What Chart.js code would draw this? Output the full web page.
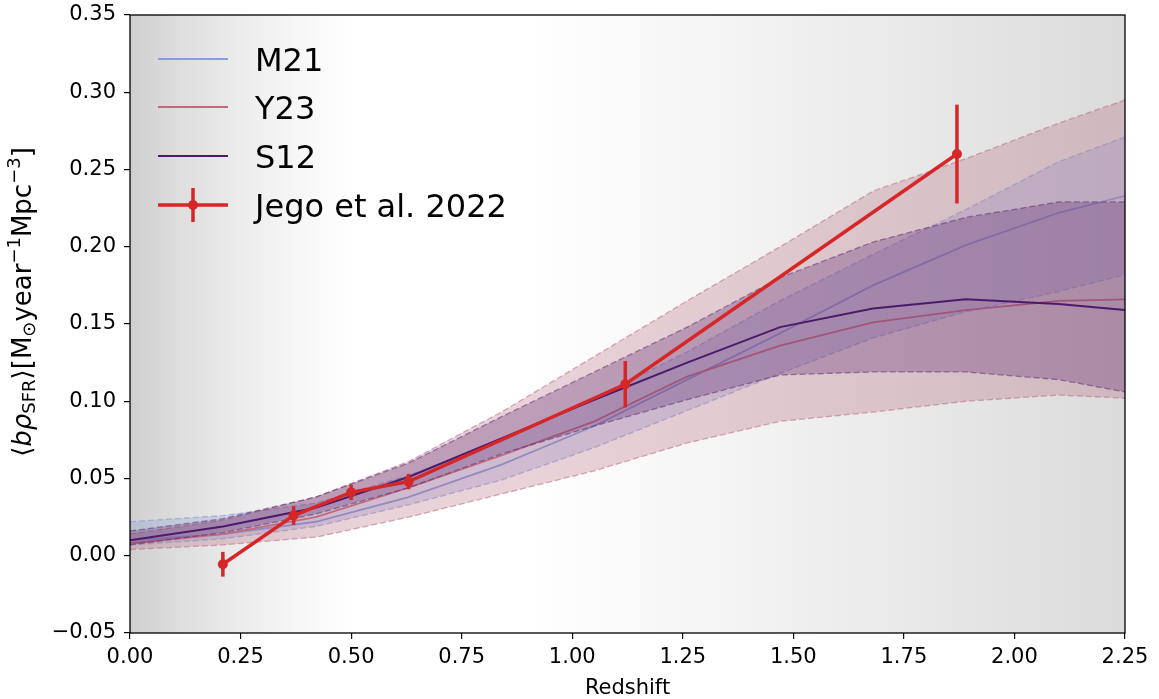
<!DOCTYPE html>
<html>
<head>
<meta charset="utf-8">
<script src="https://cdn.jsdelivr.net/npm/chart.js@4.4.1/dist/chart.umd.min.js"></script>
<style>
  html, body { margin: 0; padding: 0; background: #ffffff; }
  #wrap { width: 1159px; height: 699px; }
</style>
</head>
<body>
<div id="wrap"><canvas id="c" width="1159" height="699"></canvas></div>
<script>
// Redshift grid of the model curves
const redshift = [0, 0.21, 0.42, 0.63, 0.84, 1.05, 1.26, 1.47, 1.68, 1.89, 2.10, 2.25];

// M21 model: median and band edges
const m21Median = [0.010, 0.014, 0.022, 0.038, 0.059, 0.084, 0.114, 0.144, 0.175, 0.201, 0.222, 0.233];
const m21Lower  = [0.007, 0.011, 0.019, 0.033, 0.049, 0.070, 0.094, 0.118, 0.141, 0.158, 0.171, 0.182];
const m21Upper  = [0.022, 0.026, 0.034, 0.052, 0.074, 0.102, 0.132, 0.165, 0.195, 0.224, 0.255, 0.271];

// Y23 model
const y23Median = [0.008, 0.014, 0.025, 0.044, 0.065, 0.087, 0.116, 0.136, 0.151, 0.159, 0.165, 0.166];
const y23Lower  = [0.004, 0.007, 0.012, 0.025, 0.040, 0.055, 0.073, 0.087, 0.093, 0.100, 0.104, 0.102];
const y23Upper  = [0.014, 0.023, 0.038, 0.061, 0.093, 0.129, 0.165, 0.200, 0.236, 0.257, 0.280, 0.295];

// S12 model
const s12Median = [0.010, 0.019, 0.031, 0.051, 0.076, 0.101, 0.125, 0.148, 0.160, 0.166, 0.163, 0.159];
const s12Lower  = [0.007, 0.015, 0.027, 0.044, 0.066, 0.084, 0.101, 0.117, 0.119, 0.119, 0.114, 0.106];
const s12Upper  = [0.016, 0.024, 0.038, 0.060, 0.090, 0.119, 0.148, 0.180, 0.203, 0.219, 0.229, 0.229];

// Jego et al. 2022 measurements
const jegoZ   = [0.21, 0.37, 0.50, 0.63, 1.12, 1.87];
const jegoVal = [-0.0055, 0.026, 0.041, 0.048, 0.111, 0.260];
const jegoErr = [0.008, 0.006, 0.005, 0.005, 0.015, 0.032];

// Axis ticks
const xTicks = [0, 0.25, 0.5, 0.75, 1.0, 1.25, 1.5, 1.75, 2.0, 2.25];
const yTicks = [-0.05, 0, 0.05, 0.10, 0.15, 0.20, 0.25, 0.30, 0.35];

const legendNames = ['M21', 'Y23', 'S12', 'Jego et al. 2022'];

const COL = {
  m21: '#8a9cdc', m21Fill: 'rgba(135,151,214,0.30)', m21Edge: 'rgba(135,151,214,0.6)',
  y23: '#c06a80', y23Fill: 'rgba(180,95,120,0.28)', y23Edge: 'rgba(180,95,120,0.5)',
  s12: '#4a1a6b', s12Fill: 'rgba(85,35,110,0.30)', s12Edge: 'rgba(85,35,110,0.5)',
  jego: '#d62728'
};

function pts(ys) { return redshift.map((z, i) => ({ x: z, y: ys[i] })); }

function edge(ys, color, order, fillTarget, fillColor) {
  return {
    data: pts(ys), borderColor: color, borderWidth: 1.3, borderDash: [6, 3],
    pointRadius: 0, tension: 0, order: order,
    fill: fillTarget === undefined ? false : { target: fillTarget },
    backgroundColor: fillColor || 'transparent'
  };
}
function median(ys, color, width, order) {
  return { data: pts(ys), borderColor: color, borderWidth: width, pointRadius: 0,
           tension: 0, fill: false, order: order };
}

const datasets = [
  edge(m21Lower, COL.m21Edge, 9),                         // 0
  edge(m21Upper, COL.m21Edge, 8, 0, COL.m21Fill),         // 1
  median(m21Median, COL.m21, 1.8, 7),                     // 2
  edge(y23Lower, COL.y23Edge, 6),                         // 3
  edge(y23Upper, COL.y23Edge, 5, 3, COL.y23Fill),         // 4
  median(y23Median, COL.y23, 1.8, 4),                     // 5
  edge(s12Lower, COL.s12Edge, 3),                         // 6
  edge(s12Upper, COL.s12Edge, 2, 6, COL.s12Fill),         // 7
  median(s12Median, COL.s12, 2, 1),                       // 8
  { data: jegoZ.map((z, i) => ({ x: z, y: jegoVal[i] })), borderColor: COL.jego,
    backgroundColor: COL.jego, borderWidth: 3.5, pointRadius: 5, pointBorderWidth: 0,
    pointBackgroundColor: COL.jego, tension: 0, fill: false, order: 0 }   // 9
];

const FONT = 'DejaVu Sans';

// Shaded background of the plotting area
const backdrop = {
  id: 'backdrop',
  beforeDraw(chart) {
    const a = chart.chartArea, ctx = chart.ctx;
    const g = ctx.createLinearGradient(a.left, 0, a.right, 0);
    g.addColorStop(0.00, '#cfcfcf');
    g.addColorStop(0.05, '#dedede');
    g.addColorStop(0.12, '#eeeeee');
    g.addColorStop(0.19, '#fafafa');
    g.addColorStop(0.23, '#ffffff');
    g.addColorStop(0.40, '#ffffff');
    g.addColorStop(0.58, '#f5f5f5');
    g.addColorStop(0.78, '#e9e9e9');
    g.addColorStop(1.00, '#dbdbdb');
    ctx.save();
    ctx.fillStyle = g;
    ctx.fillRect(a.left, a.top, a.right - a.left, a.bottom - a.top);
    ctx.restore();
  }
};

// Vertical error bars of the measurements
const errorBars = {
  id: 'errorBars',
  afterDatasetsDraw(chart) {
    const xs = chart.scales.x, ys = chart.scales.y, ctx = chart.ctx;
    ctx.save();
    ctx.strokeStyle = COL.jego;
    ctx.lineWidth = 3.5;
    jegoZ.forEach((z, i) => {
      const px = xs.getPixelForValue(z);
      ctx.beginPath();
      ctx.moveTo(px, ys.getPixelForValue(jegoVal[i] - jegoErr[i]));
      ctx.lineTo(px, ys.getPixelForValue(jegoVal[i] + jegoErr[i]));
      ctx.stroke();
    });
    ctx.restore();
  }
};

// Frame, legend and axis titles
function drawRich(ctx, parts) {
  // parts: [text, font, dy]
  let w = 0;
  parts.forEach(p => { ctx.font = p[1]; w += ctx.measureText(p[0]).width; });
  let x = -w / 2;
  parts.forEach(p => { ctx.font = p[1]; ctx.fillText(p[0], x, p[2]); x += ctx.measureText(p[0]).width; });
}

const decorations = {
  id: 'decorations',
  afterDraw(chart) {
    const a = chart.chartArea, ctx = chart.ctx;
    ctx.save();
    ctx.strokeStyle = '#000';
    ctx.lineWidth = 1.3;
    ctx.strokeRect(a.left, a.top, a.right - a.left, a.bottom - a.top);

    // legend
    const rows = [59, 107, 156, 205];
    const colors = [COL.m21, COL.y23, COL.s12, COL.jego];
    const x0 = 158, x1 = 228;
    rows.forEach((y, i) => {
      ctx.strokeStyle = colors[i];
      ctx.lineWidth = i === 3 ? 3.5 : 2;
      ctx.beginPath(); ctx.moveTo(x0, y); ctx.lineTo(x1, y); ctx.stroke();
      if (i === 3) {
        const cx = (x0 + x1) / 2;
        ctx.beginPath(); ctx.moveTo(cx, y - 17); ctx.lineTo(cx, y + 17); ctx.stroke();
        ctx.fillStyle = COL.jego;
        ctx.beginPath(); ctx.arc(cx, y, 5, 0, Math.PI * 2); ctx.fill();
      }
      ctx.fillStyle = '#000';
      ctx.font = '32px "' + FONT + '"';
      ctx.textBaseline = 'alphabetic';
      ctx.textAlign = 'left';
      ctx.fillText(legendNames[i], 255, y + 12);
    });

    // x title
    ctx.fillStyle = '#000';
    ctx.font = '21px "' + FONT + '"';
    ctx.textAlign = 'center';
    ctx.textBaseline = 'middle';
    ctx.fillText('Redshift', (a.left + a.right) / 2, 689);

    // y title
    ctx.translate(24, 302);
    ctx.rotate(-Math.PI / 2);
    ctx.textAlign = 'left';
    ctx.textBaseline = 'middle';
    const n = '26px "' + FONT + '"', it = 'oblique 26px "' + FONT + '"', s = '18px "' + FONT + '"';
    drawRich(ctx, [
      ['\u27E8', n, 0], ['bρ', it, 0], ['SFR', s, 6], ['\u27E9', n, 0],
      ['[M', n, 0], ['\u2299', s, 6], ['year', n, 0], ['\u22121', s, -9],
      ['Mpc', n, 0], ['\u22123', s, -9], [']', n, 0]
    ]);
    ctx.restore();
  }
};

const tickFmt = v => v.toFixed(2).replace('-', '\u2212');

new Chart(document.getElementById('c'), {
  type: 'line',
  data: { datasets },
  plugins: [backdrop, errorBars, decorations],
  options: {
    responsive: false,
    animation: false,
    layout: { padding: { left: 0, right: 34, top: 15, bottom: 0 } },
    plugins: { legend: { display: false }, tooltip: { enabled: false }, filler: { propagate: false } },
    scales: {
      x: {
        type: 'linear', min: 0, max: 2.25,
        afterFit(s) { s.height = 66; s.paddingLeft = 0; s.paddingRight = 0; },
        afterBuildTicks(s) { s.ticks = xTicks.map(v => ({ value: v })); },
        grid: { display: true, drawOnChartArea: false, drawTicks: true, tickLength: 6, color: '#000', lineWidth: 1.2 },
        border: { display: false },
        ticks: { color: '#000', font: { family: FONT, size: 21 }, padding: 6, maxRotation: 0, autoSkip: false,
                 callback: tickFmt }
      },
      y: {
        type: 'linear', min: -0.05, max: 0.35,
        afterFit(s) { s.width = 130; s.paddingTop = 0; s.paddingBottom = 0; },
        afterBuildTicks(s) { s.ticks = yTicks.map(v => ({ value: v })); },
        grid: { display: true, drawOnChartArea: false, drawTicks: true, tickLength: 6, color: '#000', lineWidth: 1.2 },
        border: { display: false },
        ticks: { color: '#000', font: { family: FONT, size: 21 }, padding: 8, autoSkip: false,
                 callback: tickFmt }
      }
    }
  }
});
</script>
</body>
</html>
